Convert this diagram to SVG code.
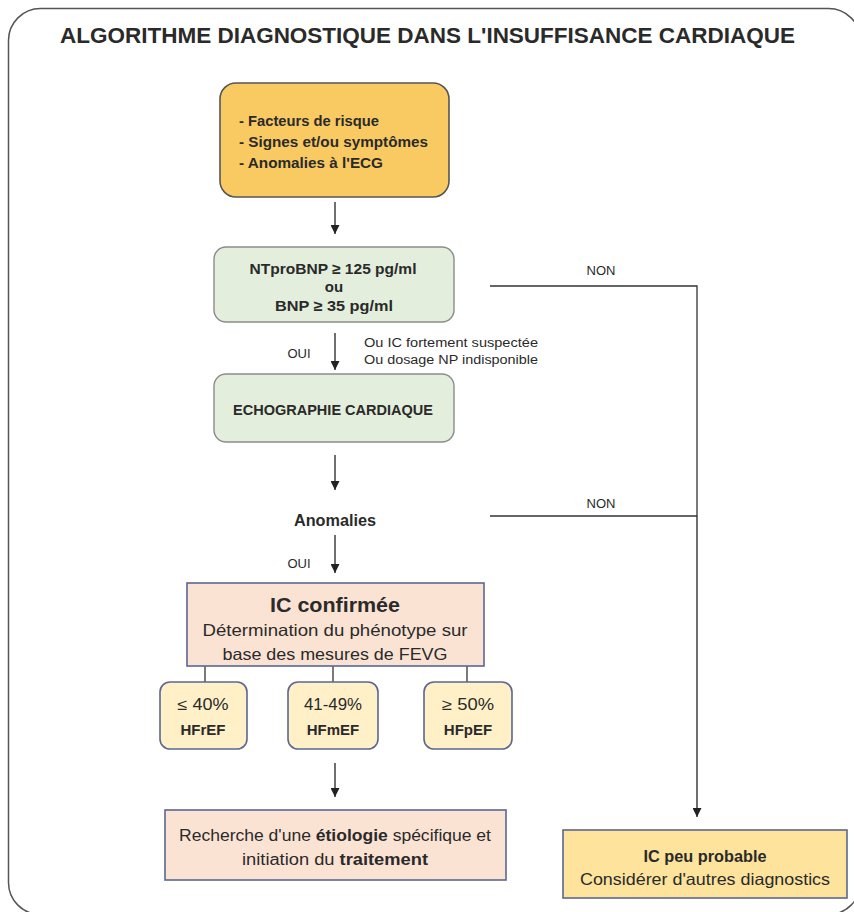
<svg xmlns="http://www.w3.org/2000/svg" width="854" height="912" viewBox="0 0 854 912">
<defs>
<marker id="ah" viewBox="0 0 10 10" refX="10" refY="5" markerWidth="9" markerHeight="9" markerUnits="userSpaceOnUse" orient="auto">
<path d="M0,0 L10,5 L0,10 z" fill="#222"/>
</marker>
<style>
text{font-family:"Liberation Sans",Arial,sans-serif;fill:#2a2a2a}
.b{font-weight:bold}
.c{text-anchor:middle}
.ln{stroke:#333;stroke-width:1.3;fill:none}
.arr{stroke:#222;stroke-width:1.3;fill:none;marker-end:url(#ah)}
.yel{fill:#F9CA62;stroke:#555;stroke-width:1.6}
.grn{fill:#E3EEDC;stroke:#8c8c8c;stroke-width:1.4}
.sal{fill:#FBE3D4;stroke:#5B6792;stroke-width:1.6}
.crm{fill:#FFF0C8;stroke:#5B6792;stroke-width:1.6}
.lyl{fill:#FDE39C;stroke:#5B6792;stroke-width:1.6}
</style>
</defs>
<rect x="0" y="0" width="854" height="912" fill="#fff"/>
<rect x="8.5" y="8.5" width="852" height="906" rx="32" fill="#fff" stroke="#555" stroke-width="1.5"/>
<text x="60" y="43" class="b" font-size="22" textLength="735" lengthAdjust="spacingAndGlyphs">ALGORITHME DIAGNOSTIQUE DANS L'INSUFFISANCE CARDIAQUE</text>

<g id="connectors">
<line class="arr" x1="335" y1="202" x2="335" y2="234"/>
<line class="arr" x1="335" y1="333" x2="335" y2="370"/>
<line class="arr" x1="335" y1="455" x2="335" y2="490"/>
<line class="arr" x1="335" y1="535" x2="335" y2="573"/>
<line class="arr" x1="335" y1="763" x2="335" y2="797"/>
<polyline class="ln" points="490,286 697,286 697,516"/>
<line class="ln" x1="490" y1="516" x2="697" y2="516"/>
<line class="arr" x1="697" y1="516" x2="697" y2="817"/>
<line class="ln" x1="205" y1="666" x2="205" y2="682"/>
<line class="ln" x1="333" y1="666" x2="333" y2="682"/>
<line class="ln" x1="467" y1="666" x2="467" y2="682"/>
<text x="601" y="275" class="c" font-size="13">NON</text>
<text x="601" y="508" class="c" font-size="13">NON</text>
<text x="299" y="358" class="c" font-size="13">OUI</text>
<text x="299" y="568" class="c" font-size="13">OUI</text>
<text x="364" y="347" font-size="12.5" textLength="174" lengthAdjust="spacingAndGlyphs">Ou IC fortement suspectée</text>
<text x="364" y="364" font-size="12.5" textLength="174" lengthAdjust="spacingAndGlyphs">Ou dosage NP indisponible</text>
</g>

<g id="facteurs">
<rect class="yel" x="220" y="83" width="229" height="114" rx="16"/>
<text x="239" y="126" class="b" font-size="15" textLength="140" lengthAdjust="spacingAndGlyphs">- Facteurs de risque</text>
<text x="239" y="147" class="b" font-size="15" textLength="189" lengthAdjust="spacingAndGlyphs">- Signes et/ou symptômes</text>
<text x="239" y="168" class="b" font-size="15" textLength="144" lengthAdjust="spacingAndGlyphs">- Anomalies à l'ECG</text>
</g>

<g id="bnp">
<rect class="grn" x="214" y="247" width="240" height="75" rx="12"/>
<text x="333" y="274" class="b c" font-size="15" textLength="167" lengthAdjust="spacingAndGlyphs">NTproBNP ≥ 125 pg/ml</text>
<text x="334" y="292" class="b c" font-size="15">ou</text>
<text x="334" y="311" class="b c" font-size="15" textLength="118" lengthAdjust="spacingAndGlyphs">BNP ≥ 35 pg/ml</text>
</g>

<g id="echo">
<rect class="grn" x="214" y="374" width="240" height="68" rx="12"/>
<text x="333" y="415" class="b c" font-size="14.5" textLength="200" lengthAdjust="spacingAndGlyphs">ECHOGRAPHIE CARDIAQUE</text>
</g>

<g id="anomalies">
<text x="335" y="526" class="b c" font-size="16" textLength="82" lengthAdjust="spacingAndGlyphs">Anomalies</text>
</g>

<g id="confirmee">
<rect class="sal" x="187" y="583" width="297" height="83"/>
<text x="335" y="612" class="b c" font-size="21" textLength="130" lengthAdjust="spacingAndGlyphs">IC confirmée</text>
<text x="335" y="636" class="c" font-size="16.5" textLength="265" lengthAdjust="spacingAndGlyphs">Détermination du phénotype sur</text>
<text x="335" y="660" class="c" font-size="16.5" textLength="225" lengthAdjust="spacingAndGlyphs">base des mesures de FEVG</text>
</g>

<g id="hfref">
<rect class="crm" x="160" y="682" width="87" height="67" rx="10"/>
<text x="203" y="710" class="c" font-size="16" textLength="51" lengthAdjust="spacingAndGlyphs">≤ 40%</text>
<text x="203" y="735" class="b c" font-size="15">HFrEF</text>
</g>
<g id="hfmef">
<rect class="crm" x="288" y="682" width="90" height="67" rx="10"/>
<text x="333" y="710" class="c" font-size="16" textLength="58" lengthAdjust="spacingAndGlyphs">41-49%</text>
<text x="333" y="735" class="b c" font-size="15">HFmEF</text>
</g>
<g id="hfpef">
<rect class="crm" x="424" y="682" width="88" height="67" rx="10"/>
<text x="468" y="710" class="c" font-size="16" textLength="52" lengthAdjust="spacingAndGlyphs">≥ 50%</text>
<text x="468" y="735" class="b c" font-size="15">HFpEF</text>
</g>

<g id="etiologie">
<rect class="sal" x="165" y="810" width="341" height="70"/>
<text x="335" y="841" class="c" font-size="16" textLength="312" lengthAdjust="spacingAndGlyphs">Recherche d'une <tspan class="b">étiologie</tspan> spécifique et</text>
<text x="335" y="865" class="c" font-size="16" textLength="186" lengthAdjust="spacingAndGlyphs">initiation du <tspan class="b">traitement</tspan></text>
</g>

<g id="peu-probable">
<rect class="lyl" x="563" y="830" width="284" height="68"/>
<text x="705" y="862" class="b c" font-size="16" textLength="123" lengthAdjust="spacingAndGlyphs">IC peu probable</text>
<text x="705" y="885" class="c" font-size="16.5" textLength="250" lengthAdjust="spacingAndGlyphs">Considérer d'autres diagnostics</text>
</g>
</svg>
